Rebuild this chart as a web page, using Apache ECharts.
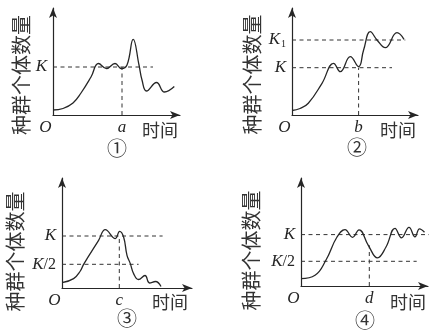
<!DOCTYPE html>
<html><head><meta charset="utf-8">
<script src="https://cdn.jsdelivr.net/npm/echarts@6/dist/echarts.min.js"></script>
<style>html,body{margin:0;padding:0;background:#fff}#c{width:435px;height:333px}</style>
</head><body><div id="c"></div>
<script>
// Units: time = px-like units along the time axis from the origin, count = units above the time axis.
// Panel ①
const p1Time  = [0, 10, 20, 28, 38, 45.5, 53.5, 62, 68.5, 74, 80.2, 86, 89, 93.5, 103.5, 111.5, 121.3];
const p1Count = [5, 6.5, 12, 22, 38, 51.5, 46.5, 51.5, 46.5, 50, 75.7, 50, 35, 24, 32.5, 23, 28.5];
const p1Levels = [48];            // K
const p1LevelLabels = ['K'];
const p1LevelEnds = [100];
const p1Mark = 69, p1MarkTop = 48, p1MarkLabel = 'a';
// Panel ②
const p2Time  = [0, 8, 16.3, 30, 41.6, 48.3, 58.3, 66.6, 71.6, 78.3, 85, 93.3, 105, 112];
const p2Count = [4.5, 6.5, 11.7, 31.7, 51.7, 43.3, 58.3, 48.3, 65, 83.3, 75, 67.3, 82.3, 75.7];
const p2Levels = [47.3, 75];      // K, K1
const p2LevelLabels = ['K', 'K1'];
const p2LevelEnds = [100, 113.3];
const p2Mark = 66.6, p2MarkTop = 47.3, p2MarkLabel = 'b';
// Panel ③
const p3Time  = [0, 11.6, 18.3, 21.6, 36.6, 43.3, 53.3, 57.6, 61.6, 65, 68.3, 71.6, 76.5, 83, 87.5, 93.5, 99];
const p3Count = [5.4, 9.4, 17, 23.7, 47.7, 58.4, 49.4, 56.7, 51, 32.7, 24.4, 14.4, 8.5, 12.5, 5, 6.5, 1.5];
const p3Levels = [52, 23.7];      // K, K/2
const p3LevelLabels = ['K', 'K/2'];
const p3LevelEnds = [100.6, 76.6];
const p3Mark = 57.3, p3MarkTop = 52, p3MarkLabel = 'c';
// Panel ④
const p4Time  = [0, 14, 25, 36, 44, 51.5, 58, 67.3, 76.5, 85, 94, 100.5, 108, 114, 118.5, 123.5];
const p4Count = [7.4, 10.7, 26, 49, 56.4, 48.7, 56.2, 40.7, 28.2, 39, 57.7, 48.2, 58.7, 49.2, 57.2, 53.7];
const p4Levels = [51.4, 24.7];    // K, K/2
const p4LevelLabels = ['K', 'K/2'];
const p4LevelEnds = [130.7, 115.7];
const p4Mark = 68.3, p4MarkTop = 40.7, p4MarkLabel = 'd';

const yName = '种群个体数量';
const xName = '时间';
const captions = ['①', '②', '③', '④'];

const panels = [
  {time:p1Time, count:p1Count, levels:p1Levels, labels:p1LevelLabels, ends:p1LevelEnds, mark:p1Mark, markTop:p1MarkTop, markLabel:p1MarkLabel,
   grid:{left:53, top:8, width:127, height:107}, nameGap:22, namePad:27, xGap:-38, xPad:6, cap:[117,148]},
  {time:p2Time, count:p2Count, levels:p2Levels, labels:p2LevelLabels, ends:p2LevelEnds, mark:p2Mark, markTop:p2MarkTop, markLabel:p2MarkLabel,
   grid:{left:292, top:8, width:126, height:107}, nameGap:30, namePad:26, xGap:-38, xPad:6, cap:[357,147]},
  {time:p3Time, count:p3Count, levels:p3Levels, labels:p3LevelLabels, ends:p3LevelEnds, mark:p3Mark, markTop:p3MarkTop, markLabel:p3MarkLabel,
   grid:{left:62, top:178, width:130, height:110}, nameGap:37, namePad:37, xGap:-40, xPad:5, cap:[127,318]},
  {time:p4Time, count:p4Count, levels:p4Levels, labels:p4LevelLabels, ends:p4LevelEnds, mark:p4Mark, markTop:p4MarkTop, markLabel:p4MarkLabel,
   grid:{left:301, top:178, width:127, height:108}, nameGap:40, namePad:37, xGap:-38, xPad:7, cap:[365,320]}
];

const INK = '#262626';
const serif = '"Liberation Serif","DejaVu Serif",serif';
const cjk = '"Noto Sans CJK SC","Noto Sans CJK JP",sans-serif';
const richY = {
  k:{fontFamily:serif, fontStyle:'italic', fontSize:17, color:INK},
  s:{fontFamily:serif, fontSize:10, color:INK, verticalAlign:'bottom', padding:[8,0,0,1]},
  n:{fontFamily:serif, fontSize:16, color:INK}
};
const richX = {
  o:{fontFamily:serif, fontStyle:'italic', fontSize:17, color:INK, padding:[0,15,0,0]},
  i:{fontFamily:serif, fontStyle:'italic', fontSize:17, color:INK}
};
function fmtLevel(lbl){
  if (lbl === 'K1') return '{k|K}{s|1}';
  if (lbl === 'K/2') return '{k|K}{n|/2}';
  return '{k|K}';
}

const option = {backgroundColor:'#fff', animation:false, grid:[], xAxis:[], yAxis:[], series:[], graphic:[]};
const dash = {color:'#333', width:1, type:[4,3.5]};
panels.forEach((p, i) => {
  option.grid.push(Object.assign({containLabel:false}, p.grid));
  option.xAxis.push({
    type:'value', gridIndex:i, min:0, max:p.grid.width,
    axisLine:{show:true, onZero:false, symbol:['none','arrow'], symbolSize:[6,10], lineStyle:{color:INK, width:1.2}},
    axisTick:{show:false}, splitLine:{show:false},
    axisLabel:{customValues:[0, p.mark], margin:4, rich:richX,
      formatter:(v) => Math.abs(v) < 1e-6 ? '{o|O}' : '{i|' + p.markLabel + '}'},
    name:xName, nameLocation:'end', nameGap:p.xGap,
    nameTextStyle:{fontFamily:cjk, fontSize:18, color:'#333', align:'left', verticalAlign:'top', padding:[p.xPad,0,0,0]}
  });
  option.yAxis.push({
    type:'value', gridIndex:i, min:0, max:p.grid.height,
    axisLine:{show:true, onZero:false, symbol:['none','arrow'], symbolSize:[6,10], lineStyle:{color:INK, width:1.2}},
    axisTick:{show:false}, splitLine:{show:false},
    axisLabel:{customValues:p.levels, margin:6, rich:richY,
      formatter:(v) => { const k = p.levels.findIndex(l => Math.abs(l - v) < 1e-6); return k >= 0 ? fmtLevel(p.labels[k]) : ''; }},
    name:yName, nameLocation:'middle', nameRotate:90, nameGap:p.nameGap,
    nameTextStyle:{fontFamily:cjk, fontSize:20, color:'#333', padding:[0,p.namePad,0,0]}
  });
  // dashed reference lines
  p.levels.forEach((lv, j) => {
    option.series.push({type:'line', xAxisIndex:i, yAxisIndex:i, clip:false, silent:true, showSymbol:false, symbol:'none',
      data:[[0, lv], [p.ends[j], lv]], lineStyle:dash, z:1});
  });
  option.series.push({type:'line', xAxisIndex:i, yAxisIndex:i, clip:false, silent:true, showSymbol:false, symbol:'none',
    data:[[p.mark, 0], [p.mark, p.markTop]], lineStyle:dash, z:1});
  // population curve
  option.series.push({type:'line', xAxisIndex:i, yAxisIndex:i, clip:false, silent:true, showSymbol:false, symbol:'none',
    smooth:0.45, data:p.time.map((t, k) => [t, p.count[k]]), lineStyle:{color:INK, width:1.3}, z:3});
  option.graphic.push({type:'text', x:p.cap[0], y:p.cap[1],
    style:{text:captions[i], fontFamily:cjk, fontSize:20, fill:'#333', textAlign:'center', textVerticalAlign:'middle'}});
});

const chart = echarts.init(document.getElementById('c'), null, {renderer:'canvas'});
chart.setOption(option);
</script>
</body></html>
